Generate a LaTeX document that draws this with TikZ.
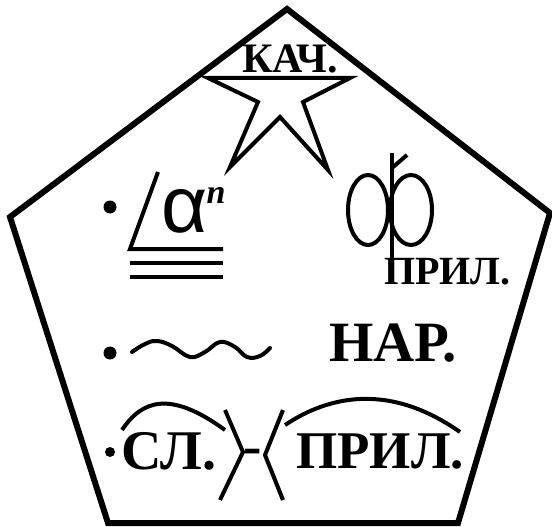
\documentclass[tikz,border=0pt]{standalone}
\usepackage{fontspec}
\setmainfont{Liberation Serif}
\newfontfamily\alphafont{Liberation Sans}
\begin{document}
\begin{tikzpicture}[x=1pt,y=-1pt,
  thick line/.style={line width=6pt,line join=miter},
  sym/.style={line width=4pt,line join=miter},
  lbl/.style={inner sep=0pt,anchor=west,font=\bfseries},
  dotmark/.style={fill=black}]
\useasboundingbox (0,0) rectangle (552,527);
% pentagon
\draw[thick line] (287,9) -- (550,213) -- (458,523) -- (108,523) -- (10,217) -- cycle;
% star
\draw[sym] (208,78) -- (350,78) -- (303,102) -- (328,170) -- (280,117) -- (230,167) -- (258,102) -- cycle;
\node[lbl,font=\bfseries\fontsize{42}{42}\selectfont] (kach) at (242,58.5) {КАЧ.};
% row 1
\fill[dotmark] (110,207) circle (6.5);
\draw[sym] (158,172) -- (130,249) -- (223,249);
\draw[sym] (130,263) -- (223,263);
\draw[sym] (130,277) -- (223,277);
\node[inner sep=0pt,font=\alphafont\fontsize{80}{80}\selectfont] (alpha) at (185,211) {α};
\node[inner sep=0pt,font=\bfseries\itshape\fontsize{34}{34}\selectfont] (n) at (216,195) {n};
% ef
\draw[sym] (368,210) ellipse [x radius=20,y radius=35];
\draw[sym] (411,210) ellipse [x radius=21,y radius=35];
\draw[sym] (392,153) -- (392,262);
\draw[sym] (392,168) -- (407,155);
\node[lbl,font=\bfseries\fontsize{40}{40}\selectfont] (pril1) at (384,271.5) {ПРИЛ.};
% row 2
\fill[dotmark] (110,353) circle (6.5);
\draw[sym,line cap=round] plot[smooth,tension=0.7] coordinates {(132,352) (145,344) (157,341) (172,346) (190,357) (205,352) (220,342) (235,347) (247,357) (260,356) (270,348)};
\node[lbl,font=\bfseries\fontsize{57}{57}\selectfont] (nar) at (329,343.5) {НАР.};
% row 3
\fill[dotmark] (110,452) circle (5);
\node[lbl,font=\bfseries\fontsize{56}{56}\selectfont] (sl) at (121,451.5) {СЛ.};
\draw[sym] (122,430) .. controls (142,400) and (170,390) .. (225,430);
\draw[sym] (225,410) -- (243,452) -- (220,500);
\node[inner sep=0pt,font=\bfseries\fontsize{55}{55}\selectfont] (dash) at (253,457) {-};
\draw[sym] (283,410) -- (265,455) -- (283,500);
\draw[sym] (285,425) .. controls (330,395) and (390,383) .. (460,432);
\node[lbl,font=\bfseries\fontsize{53}{53}\selectfont] (pril2) at (296,451.5) {ПРИЛ.};
\end{tikzpicture}
\end{document}
